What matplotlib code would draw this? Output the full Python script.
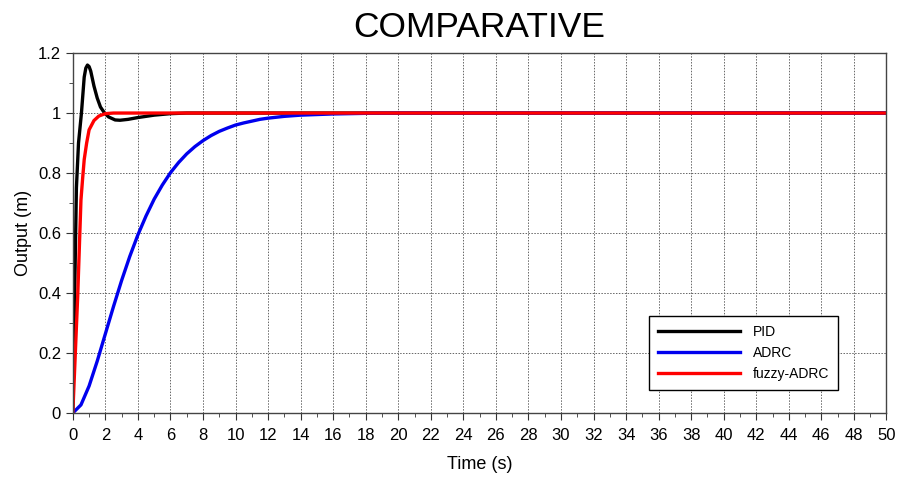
import matplotlib
matplotlib.use("Agg")
import matplotlib.pyplot as plt
from matplotlib.ticker import MultipleLocator

plt.rcParams['font.family'] = ['Liberation Sans', 'DejaVu Sans']

# time samples and responses
t_pid = [0, 0.1, 0.22, 0.35, 0.53, 0.7, 0.8, 0.9, 1.0, 1.1, 1.3, 1.5, 1.7, 1.95, 2.2,
         2.6, 2.9, 3.4, 4.0, 5.0, 6.0, 7.0, 50]
y_pid = [0, 0.35, 0.75, 0.9, 1.0, 1.12, 1.15, 1.16, 1.155, 1.14, 1.09, 1.05, 1.02, 1.0, 0.987,
         0.977, 0.976, 0.979, 0.985, 0.993, 0.998, 1.0, 1.0]

t_adrc = [0, 0.5, 1, 1.5, 2, 2.5, 3, 3.5, 4, 4.5, 5, 5.5, 6, 6.5, 7, 7.5, 8, 8.5, 9, 9.5,
          10, 10.5, 11, 11.5, 12, 13, 14, 15, 16, 17, 18, 20, 50]
y_adrc = [0, 0.027, 0.09, 0.173, 0.264, 0.355, 0.442, 0.522, 0.594, 0.657, 0.713, 0.76,
          0.801, 0.835, 0.864, 0.888, 0.908, 0.925, 0.939, 0.95, 0.96, 0.967, 0.973, 0.979,
          0.983, 0.989, 0.993, 0.995, 0.997, 0.998, 0.999, 1.0, 1.0]

t_fuzzy = [0, 0.1, 0.2, 0.3, 0.4, 0.5, 0.6, 0.7, 0.85, 1.0, 1.3, 1.6, 2.0, 2.5, 50]
y_fuzzy = [0, 0.13, 0.26, 0.39, 0.55, 0.71, 0.78, 0.845, 0.9, 0.944, 0.975, 0.99, 0.998,
           1.0, 1.0]

labels = ['PID', 'ADRC', 'fuzzy-ADRC']

fig = plt.figure(figsize=(8.99, 4.78), dpi=100)
ax = fig.add_axes([0.081, 0.136, 0.905, 0.753])

ax.plot(t_pid, y_pid, color='black', lw=2.4, label=labels[0])
ax.plot(t_adrc, y_adrc, color='#0000ee', lw=2.4, label=labels[1])
ax.plot(t_fuzzy, y_fuzzy, color='#ff0000', lw=2.4, label=labels[2])

ax.set_xlim(0, 50)
ax.set_ylim(0, 1.2)
ax.xaxis.set_major_locator(MultipleLocator(2))
ax.xaxis.set_minor_locator(MultipleLocator(1))
ax.yaxis.set_minor_locator(MultipleLocator(0.1))
ax.set_yticks([0, 0.2, 0.4, 0.6, 0.8, 1.0, 1.2])
ax.set_yticklabels(['0', '0.2', '0.4', '0.6', '0.8', '1', '1.2'])
ax.tick_params(which='major', direction='out', length=5, labelsize=12, colors='#333333',
               labelcolor='black')
ax.tick_params(axis='x', which='major', pad=6)
ax.tick_params(which='minor', direction='out', length=3, colors='#333333')
ax.grid(True, which='major', color='#666666', linestyle=(0, (1.5, 1.5)), lw=0.7)

for s in ax.spines.values():
    s.set_color('#444444')
    s.set_linewidth(1.0)

ax.set_xlabel('Time (s)', fontsize=13, labelpad=9)
ax.set_ylabel('Output (m)', fontsize=13)
fig.text(0.5335, 1 - 37 / 478, 'COMPARATIVE', fontsize=25.5, ha='center', va='baseline')

leg = ax.legend(loc='lower right', bbox_to_anchor=(0.941, 0.064), borderaxespad=0,
                fontsize=10, handlelength=5.9, handletextpad=0.95, fancybox=False,
                framealpha=1, edgecolor='black', borderpad=0.65, labelspacing=0.5)
leg.get_frame().set_linewidth(1.0)

fig.savefig('out.png', dpi=100)
